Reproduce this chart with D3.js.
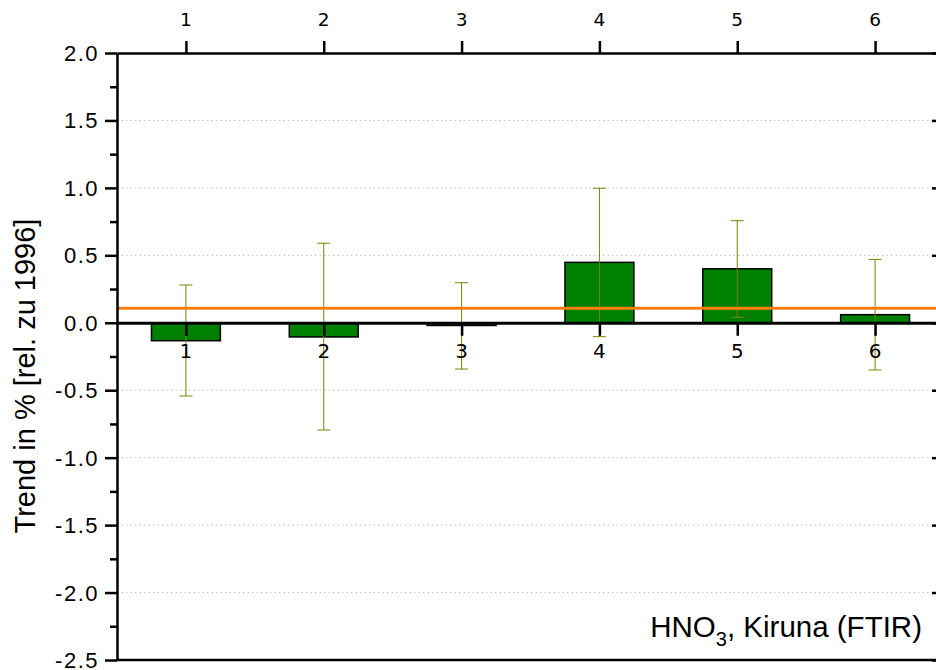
<!DOCTYPE html>
<html>
<head>
<meta charset="utf-8">
<script src="https://cdn.jsdelivr.net/npm/d3@7"></script>
<style>
  html, body { margin: 0; padding: 0; background: #fff; }
  svg { display: block; }
</style>
</head>
<body>
<svg id="chart" width="936" height="670"></svg>
<script>
// ---- data ----
const categories = [1, 2, 3, 4, 5, 6];
const trendValues = [-0.133, -0.105, -0.02, 0.448, 0.40, 0.06];
const errUpper = [0.28, 0.59, 0.297, 0.997, 0.757, 0.47];
const errLower = [-0.543, -0.795, -0.343, -0.103, 0.04, -0.35];
const meanTrend = [0.107];
const yTicks = [2.0, 1.5, 1.0, 0.5, 0.0, -0.5, -1.0, -1.5, -2.0, -2.5];
const yMinorTicks = [1.75, 1.25, 0.75, 0.25, -0.25, -0.75, -1.25, -1.75, -2.25];
const yTitle = "Trend in % [rel. zu 1996]";

// ---- layout ----
const svg = d3.select("#chart");
const pLeft = 117, pRight = 944, pTop = 53, pBottom = 660;
const x = d3.scaleLinear().domain([0.5, 6.5]).range([pLeft, pRight]);
const y = d3.scaleLinear().domain([-2.5, 2.0]).range([pBottom, pTop]);
const band = x(2) - x(1);
const fmtY = d => d.toFixed(1);

// grid
svg.append("g").selectAll("line").data(yTicks.filter(v => v !== 2.0 && v !== -2.5 && v !== 0))
  .join("line")
  .attr("x1", pLeft).attr("x2", pRight)
  .attr("y1", d => y(d)).attr("y2", d => y(d))
  .attr("stroke", "#bdbdbd").attr("stroke-width", 1)
  .attr("stroke-dasharray", "1.5,3");

// bars
svg.append("g").selectAll("rect").data(categories)
  .join("rect")
  .attr("x", (d) => x(d) - band / 4)
  .attr("width", band / 2)
  .attr("y", (d, i) => Math.min(y(trendValues[i]), y(0)))
  .attr("height", (d, i) => Math.abs(y(trendValues[i]) - y(0)))
  .attr("fill", "#008000")
  .attr("stroke", "#000").attr("stroke-width", 1.5);

// error bars
const eb = svg.append("g").attr("stroke", "#808000").attr("stroke-width", 1).attr("fill", "none");
categories.forEach((c, i) => {
  const cx = x(c);
  eb.append("line").attr("x1", cx).attr("x2", cx).attr("y1", y(errUpper[i])).attr("y2", y(errLower[i]));
  eb.append("line").attr("x1", cx - 6.5).attr("x2", cx + 6.5).attr("y1", y(errUpper[i])).attr("y2", y(errUpper[i]));
  eb.append("line").attr("x1", cx - 6.5).attr("x2", cx + 6.5).attr("y1", y(errLower[i])).attr("y2", y(errLower[i]));
});

// zero axis with category ticks
const gz = svg.append("g").attr("transform", `translate(0,${y(0)})`)
  .call(d3.axisBottom(x).tickValues(categories).tickSize(13).tickFormat("").tickSizeOuter(0));
gz.select(".domain").attr("stroke", "#000").attr("stroke-width", 3);
gz.selectAll(".tick line").attr("stroke", "#000").attr("stroke-width", 2.5);
svg.append("g").selectAll("text").data(categories).join("text")
  .attr("x", d => x(d)).attr("y", y(0) + 35)
  .attr("text-anchor", "middle").attr("fill", "#000")
  .attr("font-family", "DejaVu Sans").attr("font-size", 20)
  .text(d => d);

// orange mean line
svg.append("g").selectAll("line").data(meanTrend).join("line")
  .attr("x1", pLeft).attr("x2", pRight)
  .attr("y1", d => y(d)).attr("y2", d => y(d))
  .attr("stroke", "#ff7f0e").attr("stroke-width", 3);

// left axis
const gl = svg.append("g").attr("transform", `translate(${pLeft},0)`)
  .call(d3.axisLeft(y).tickValues(yTicks).tickSize(12).tickFormat("").tickSizeOuter(0));
gl.select(".domain").attr("stroke", "#000").attr("stroke-width", 2.5);
gl.selectAll(".tick line").attr("stroke", "#000").attr("stroke-width", 2.5);
svg.append("g").selectAll("text").data(yTicks).join("text")
  .attr("x", pLeft - 18).attr("y", d => y(d) + 8)
  .attr("text-anchor", "end").attr("fill", "#000")
  .attr("font-family", "Liberation Sans").attr("font-size", 22)
  .attr("letter-spacing", "1.5px")
  .text(fmtY);
const glm = svg.append("g").attr("transform", `translate(${pLeft},0)`)
  .call(d3.axisLeft(y).tickValues(yMinorTicks).tickSize(7).tickFormat("").tickSizeOuter(0));
glm.select(".domain").remove();
glm.selectAll(".tick line").attr("stroke", "#000").attr("stroke-width", 2.5);

// right axis (mirrored, inward)
const gr = svg.append("g").attr("transform", `translate(${pRight},0)`)
  .call(d3.axisLeft(y).tickValues(yTicks).tickSize(12).tickFormat("").tickSizeOuter(0));
gr.select(".domain").attr("stroke", "#000").attr("stroke-width", 2.5);
gr.selectAll(".tick line").attr("stroke", "#000").attr("stroke-width", 2.5);
const grm = svg.append("g").attr("transform", `translate(${pRight},0)`)
  .call(d3.axisLeft(y).tickValues(yMinorTicks).tickSize(7).tickFormat("").tickSizeOuter(0));
grm.select(".domain").remove();
grm.selectAll(".tick line").attr("stroke", "#000").attr("stroke-width", 2.5);

// top axis
const gt = svg.append("g").attr("transform", `translate(0,${pTop})`)
  .call(d3.axisTop(x).tickValues(categories).tickSize(12).tickFormat("").tickSizeOuter(0));
gt.select(".domain").attr("stroke", "#000").attr("stroke-width", 2.5);
gt.selectAll(".tick line").attr("stroke", "#000").attr("stroke-width", 2.5);
svg.append("g").selectAll("text").data(categories).join("text")
  .attr("x", d => x(d)).attr("y", pTop - 27)
  .attr("text-anchor", "middle").attr("fill", "#000")
  .attr("font-family", "DejaVu Sans").attr("font-size", 18.5)
  .text(d => d);

// bottom axis line
svg.append("line").attr("x1", pLeft).attr("x2", pRight).attr("y1", pBottom).attr("y2", pBottom)
  .attr("stroke", "#000").attr("stroke-width", 2.5);

// y title
svg.append("text")
  .attr("transform", `translate(35,376) rotate(-90)`)
  .attr("text-anchor", "middle")
  .attr("font-family", "Liberation Sans").attr("font-size", 29)
  .attr("fill", "#000")
  .text(yTitle);

// annotation
const ann = svg.append("text")
  .attr("x", 922).attr("y", 637)
  .attr("text-anchor", "end")
  .attr("font-family", "Liberation Sans").attr("font-size", 29.5)
  .attr("fill", "#000");
ann.append("tspan").text("HNO");
ann.append("tspan").attr("font-size", 20).attr("dy", 9).text("3");
ann.append("tspan").attr("dy", -9).text(", Kiruna (FTIR)");
</script>
</body>
</html>
